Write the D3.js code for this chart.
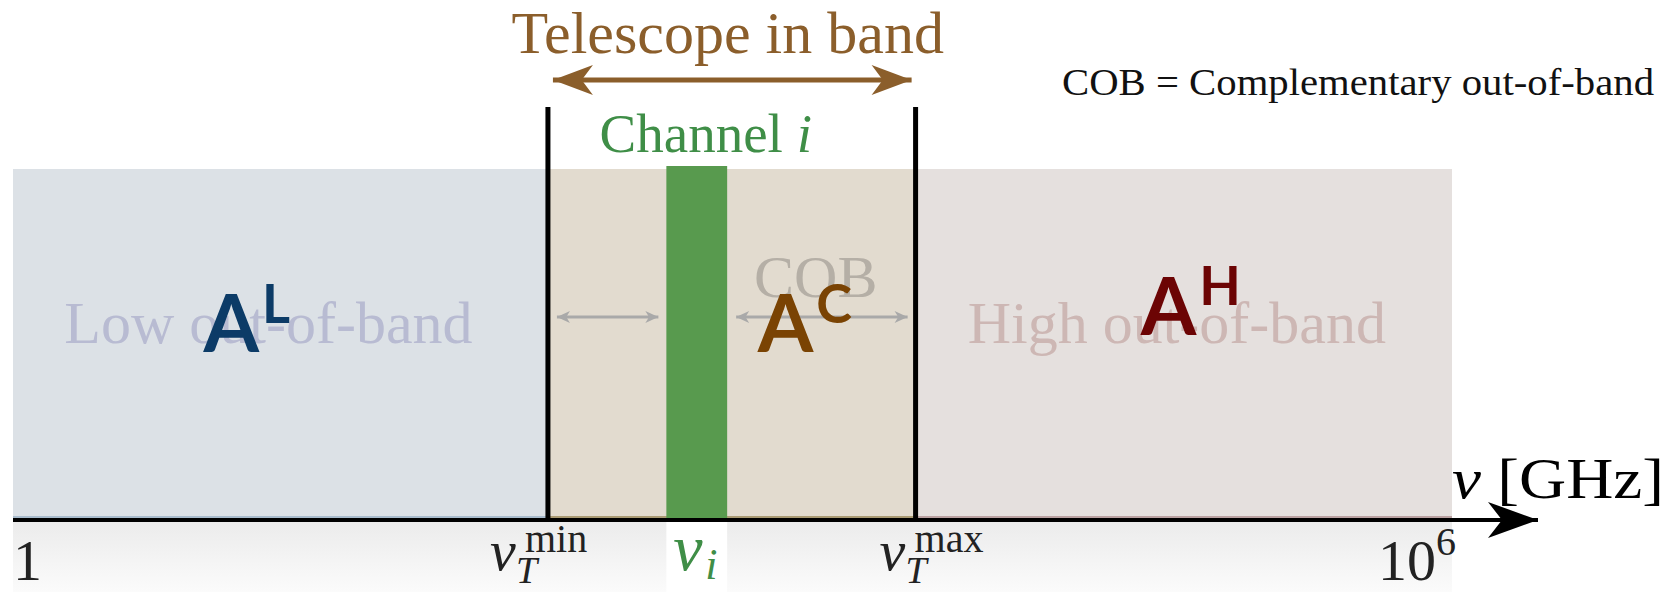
<!DOCTYPE html>
<html>
<head>
<meta charset="utf-8">
<script src="https://cdn.jsdelivr.net/npm/d3@7"></script>
<style>
	html, body { margin: 0; padding: 0; background: #fff; }
	svg { display: block; }
	svg text.serif { font-family: 'Liberation Serif', 'DejaVu Serif', serif; font-weight: 400; }
	svg text.sans { font-family: Lato, 'Noto Sans', sans-serif; font-weight: 700; }
</style>
</head>
<body>
<div id="chart"></div>
<script>
'use strict';

// frequency axis in GHz, log scale
var axisDomain = [1, 1e6];
var bandNames = ['low', 'cob', 'high'];
var bandStart = [1, 170, 5800];
var bandEnd = [170, 5800, 1e6];
var bandLabels = ['Low out-of-band', 'COB', 'High out-of-band'];
var bandSymbols = ['L', 'C', 'H'];
var telescopeBand = [170, 5800];
var channelBand = [530, 950];

// tick labels: main glyph, subscript, superscript
var tickValues = [1, 170, 700, 5800, 1e6];
var tickMain = ['1', 'ν', 'ν', 'ν', '10'];
var tickSub = ['', 'T', 'i', 'T', ''];
var tickSup = ['', 'min', '', 'max', '6'];

var W = 1674, H = 592;
var topY = 169, axisY = 520;
var SERIF = "'Liberation Serif', 'DejaVu Serif', serif";

var COLORS = {
	low: {fill: '#dce1e6', edge: '#a9bccd', text: '#b8bbd2', sym: '#0c3b67'},
	cob: {fill: '#e2dbcf', edge: '#aa9b74', text: '#b5afa6', sym: '#7a4303'},
	high: {fill: '#e5e0de', edge: '#bba2a2', text: '#cdb7b4', sym: '#6c0404'},
	brown: '#8b5e2b',
	green: '#589a4e',
	greenText: '#3f8e47',
	grey: '#a9a9a9'
};

// per band offsets of the labels (from pixel midpoint of band)
var LABEL_DX = {low: -12, cob: 84, high: -7};
var SYM_DX = {low: -77, cob: 26, high: -43};
var SYM_Y = {low: 352, cob: 352, high: 335};
var SUP_DY = {low: -29, cob: -29, high: -30};
// tick label piece offsets
var TICK_DX = [0, -58, -22, -36, 4];
var TICK_ANCHOR = ['start', 'start', 'start', 'start', 'end'];

var x = d3.scaleLog().domain(axisDomain).range([13, 1452]);

var svg = d3.select('#chart').append('svg')
	.attr('width', W)
	.attr('height', H);

var defs = svg.append('defs');

var grad = defs.append('linearGradient')
	.attr('id', 'below')
	.attr('x1', 0).attr('y1', 0).attr('x2', 0).attr('y2', 1);
grad.append('stop').attr('offset', '0%').attr('stop-color', '#ebebeb');
grad.append('stop').attr('offset', '100%').attr('stop-color', '#fbfbfb');

function marker(id, color, len, half){
	defs.append('marker')
		.attr('id', id)
		.attr('markerUnits', 'userSpaceOnUse')
		.attr('markerWidth', len + 2)
		.attr('markerHeight', half * 2 + 2)
		.attr('viewBox', [-len - 1, -half - 1, len + 2, half * 2 + 2].join(' '))
		.attr('refX', 0).attr('refY', 0)
		.attr('orient', 'auto-start-reverse')
		.append('path')
			.attr('d', 'M0,0 L' + (-len) + ',' + (-half) + ' L' + (-len * 0.72) + ',0 L' + (-len) + ',' + half + ' Z')
			.attr('fill', color);
}
marker('headBrown', COLORS.brown, 40, 15);
marker('headGrey', COLORS.grey, 13, 6);
marker('headBlack', '#000', 50, 18);

function serifText(sel){
	return sel.append('text')
		.attr('class', 'serif')
		.style('font-family', SERIF);
}

// shading below axis
svg.append('rect')
	.attr('x', x(axisDomain[0]))
	.attr('y', axisY)
	.attr('width', x(axisDomain[1]) - x(axisDomain[0]))
	.attr('height', H - axisY)
	.attr('fill', 'url(#below)');
svg.append('rect')
	.attr('x', x(channelBand[0]))
	.attr('y', axisY)
	.attr('width', x(channelBand[1]) - x(channelBand[0]))
	.attr('height', H - axisY)
	.attr('fill', '#fff');

// bands
var bands = bandNames.map(function(n, i){
	return {name: n, from: bandStart[i], to: bandEnd[i], label: bandLabels[i], sym: bandSymbols[i]};
});

var bandG = svg.append('g').attr('class', 'bands');
bandG.selectAll('rect')
	.data(bands)
	.enter().append('rect')
		.attr('x', function(d){ return x(d.from); })
		.attr('y', topY)
		.attr('width', function(d){ return x(d.to) - x(d.from); })
		.attr('height', axisY - topY)
		.attr('fill', function(d){ return COLORS[d.name].fill; });
bandG.selectAll('line')
	.data(bands)
	.enter().append('line')
		.attr('x1', function(d){ return x(d.from); })
		.attr('x2', function(d){ return x(d.to); })
		.attr('y1', axisY - 3).attr('y2', axisY - 3)
		.attr('stroke', function(d){ return COLORS[d.name].edge; })
		.attr('stroke-width', 2);

// band names (faded)
svg.append('g').attr('class', 'band-labels')
	.selectAll('text')
	.data(bands)
	.enter().append('text')
		.attr('class', 'serif')
		.style('font-family', SERIF)
		.attr('x', function(d){ return (x(d.from) + x(d.to)) / 2 + LABEL_DX[d.name]; })
		.attr('y', function(d){ return d.name === 'cob' ? 297 : 343; })
		.attr('text-anchor', 'middle')
		.attr('font-size', 60)
		.attr('fill', function(d){ return COLORS[d.name].text; })
		.text(function(d){ return d.label; });

// complementary out-of-band arrows
var cobSpans = [[telescopeBand[0], channelBand[0]], [channelBand[1], telescopeBand[1]]];
svg.append('g').attr('class', 'cob-arrows')
	.selectAll('line')
	.data(cobSpans)
	.enter().append('line')
		.attr('x1', function(d){ return x(d[0]) + 9; })
		.attr('x2', function(d){ return x(d[1]) - 8; })
		.attr('y1', 317).attr('y2', 317)
		.attr('stroke', COLORS.grey)
		.attr('stroke-width', 3)
		.attr('marker-start', 'url(#headGrey)')
		.attr('marker-end', 'url(#headGrey)');

// channel
svg.append('rect')
	.attr('x', x(channelBand[0]))
	.attr('y', 166)
	.attr('width', x(channelBand[1]) - x(channelBand[0]))
	.attr('height', axisY - 166)
	.attr('fill', COLORS.green);

// symbols A^L, A^C, A^H
var sym = svg.append('g').attr('class', 'symbols')
	.selectAll('text')
	.data(bands)
	.enter().append('text')
		.attr('class', 'sans')
		.attr('x', function(d){ return (x(d.from) + x(d.to)) / 2 + SYM_DX[d.name]; })
		.attr('y', function(d){ return SYM_Y[d.name]; })
		.attr('font-size', 80)
		.attr('fill', function(d){ return COLORS[d.name].sym; });
sym.append('tspan').text('A');
sym.append('tspan')
	.attr('dx', 3)
	.attr('dy', function(d){ return SUP_DY[d.name]; })
	.attr('font-size', 54)
	.text(function(d){ return d.sym; });

// telescope band edges
svg.append('g').attr('class', 'edges')
	.selectAll('line')
	.data(telescopeBand)
	.enter().append('line')
		.attr('x1', function(d){ return x(d); })
		.attr('x2', function(d){ return x(d); })
		.attr('y1', 107)
		.attr('y2', axisY)
		.attr('stroke', '#000')
		.attr('stroke-width', 5);

// axis line with arrow
svg.append('line')
	.attr('x1', x(axisDomain[0]))
	.attr('x2', 1538)
	.attr('y1', axisY).attr('y2', axisY)
	.attr('stroke', '#000')
	.attr('stroke-width', 4)
	.attr('marker-end', 'url(#headBlack)');

serifText(svg)
	.attr('x', 1452)
	.attr('y', 498)
	.attr('font-size', 58)
	.attr('textLength', 212)
	.attr('lengthAdjust', 'spacingAndGlyphs')
	.html('<tspan font-style="italic">ν</tspan> [GHz]');

// tick labels
var ticks = svg.append('g').attr('class', 'ticks')
	.selectAll('g')
	.data(tickValues)
	.enter().append('g')
		.attr('transform', function(d, i){ return 'translate(' + (x(d) + TICK_DX[i]) + ',0)'; })
		.attr('fill', function(d, i){ return tickSub[i] === 'i' ? COLORS.greenText : '#222'; });

ticks.each(function(d, i){
	var g = d3.select(this);
	var isGreek = tickMain[i] === 'ν';
	var isChan = tickSub[i] === 'i';
	var main = serifText(g)
		.attr('x', 0)
		.attr('y', isChan ? 570 : (isGreek ? 570 : 580))
		.attr('font-size', isChan ? 66 : 58)
		.attr('font-style', isGreek ? 'italic' : null)
		.attr('text-anchor', TICK_ANCHOR[i])
		.text(tickMain[i]);
	if (tickMain[i] === '10') {
		main.append('tspan')
			.attr('dy', -25)
			.attr('font-size', 40)
			.text(tickSup[i]);
		return;
	}
	var w = isChan ? 33 : (isGreek ? 29 : 0);
	if (tickSub[i]) {
		serifText(g)
			.attr('x', w - (isChan ? 1 : 3))
			.attr('y', isChan ? 579 : 583)
			.attr('font-size', isChan ? 44 : 38)
			.attr('font-style', 'italic')
			.text(tickSub[i]);
	}
	if (tickSup[i]) {
		serifText(g)
			.attr('x', w + 6)
			.attr('y', 552)
			.attr('font-size', 40)
			.text(tickSup[i]);
	}
});

// telescope in band
var tMid = (x(telescopeBand[0]) + x(telescopeBand[1])) / 2;
serifText(svg)
	.attr('x', tMid - 4)
	.attr('y', 53)
	.attr('text-anchor', 'middle')
	.attr('font-size', 60)
	.attr('fill', COLORS.brown)
	.text('Telescope in band');

svg.append('line')
	.attr('x1', x(telescopeBand[0]) + 5)
	.attr('x2', x(telescopeBand[1]) - 4)
	.attr('y1', 80).attr('y2', 80)
	.attr('stroke', COLORS.brown)
	.attr('stroke-width', 5)
	.attr('marker-start', 'url(#headBrown)')
	.attr('marker-end', 'url(#headBrown)');

// channel label
serifText(svg)
	.attr('x', (x(channelBand[0]) + x(channelBand[1])) / 2 + 9)
	.attr('y', 152)
	.attr('text-anchor', 'middle')
	.attr('font-size', 55)
	.attr('fill', COLORS.greenText)
	.html('Channel <tspan font-style="italic">i</tspan>');

// legend note
serifText(svg)
	.attr('x', 1062)
	.attr('y', 95)
	.attr('font-size', 37)
	.attr('textLength', 592)
	.attr('lengthAdjust', 'spacingAndGlyphs')
	.attr('fill', '#111')
	.text('COB = Complementary out-of-band');
</script>
</body>
</html>
